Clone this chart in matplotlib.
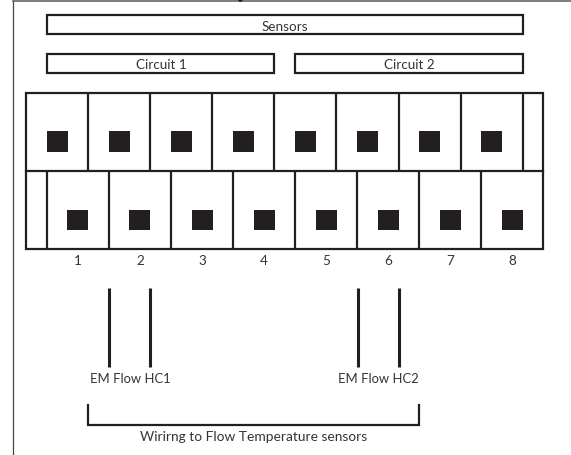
import matplotlib
matplotlib.use('Agg')
from matplotlib import pyplot as plt
from matplotlib.patches import Rectangle

plt.rcParams['font.family'] = ['Lato', 'DejaVu Sans']

WIDTH = 571
HEIGHT = 456
DARK = '#231f20'
TEXT = '#333333'

terminal_labels = ['1', '2', '3', '4', '5', '6', '7', '8']
top_dividers = [88, 150, 212, 274, 336, 398.5, 460.5, 523]
bottom_dividers = [47, 109, 171, 233, 295, 357, 419, 481]
top_squares = [47, 109, 171, 233, 295, 357, 419, 481]
bottom_squares = [67, 129, 192, 254, 316, 378, 440, 502]
label_positions = [78, 140, 202, 264, 326, 388, 450, 512]
flow_lines = [108.5, 150, 357.5, 398.5]
flow_labels = ['EM Flow HC1', 'EM Flow HC2']
flow_label_positions = [130, 378]

fig = plt.figure(figsize=(WIDTH / 100, HEIGHT / 100), dpi=100)
ax = fig.add_axes([0, 0, 1, 1])
# axes in image pixels, y pointing down
ax.set_xlim(0, WIDTH)
ax.set_ylim(HEIGHT, 0)
ax.axis('off')


def box(x0, y0, x1, y1, lw=1.6):
    ax.add_patch(Rectangle((x0, y0), x1 - x0, y1 - y0, fill=False,
                           edgecolor=DARK, linewidth=lw, joinstyle='miter'))


def label(x, y, s, size=9.7):
    ax.text(x, y, s, ha='center', va='center', fontsize=size, color=TEXT)


# page frame, with the cut-off descender of the title above it
ax.plot([12.5, 12.5], [HEIGHT, 2], color='#444444', linewidth=0.9)
ax.plot([12.5, WIDTH], [2, 2], color='#666666', linewidth=1.2)
ax.plot([240], [0.3], marker='o', markersize=3.5, color=DARK, markeredgewidth=0)

# header boxes
box(47, 16, 523, 35)
box(47, 55, 274, 74)
box(295, 55, 523, 74)
label(285, 27, 'Sensors')
label(161, 65, 'Circuit 1')
label(409, 65, 'Circuit 2')

# terminal block
box(26, 94, 543, 250)
ax.plot([26, 543], [172, 172], color=DARK, linewidth=1.6)
ax.vlines(top_dividers, 94, 172, color=DARK, linewidth=1.6)
ax.vlines(bottom_dividers, 172, 250, color=DARK, linewidth=1.6)
for x in top_squares:
    ax.add_patch(Rectangle((x, 132), 21, 21, facecolor=DARK, edgecolor='none'))
for x in bottom_squares:
    ax.add_patch(Rectangle((x, 211), 21, 20, facecolor=DARK, edgecolor='none'))
for x, s in zip(label_positions, terminal_labels):
    label(x, 261, s)

# wiring
ax.vlines(flow_lines, 289, 368, color=DARK, linewidth=2.2)
for x, s in zip(flow_label_positions, flow_labels):
    label(x, 379, s, size=9.4)
ax.plot([88, 88, 419, 419], [406, 426, 426, 406], color=DARK, linewidth=1.6,
        solid_joinstyle='miter')
label(253.5, 437, 'Wirirng to Flow Temperature sensors', size=9.9)

fig.savefig('out.png', dpi=100)
